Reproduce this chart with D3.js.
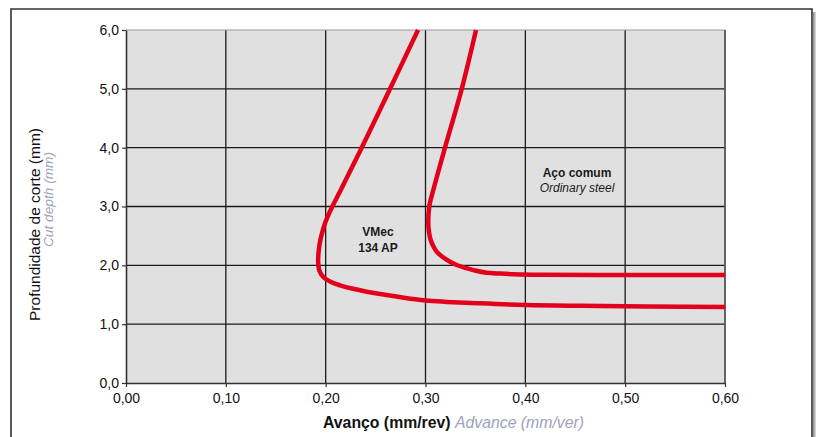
<!DOCTYPE html>
<html lang="pt">
<head>
  <meta charset="UTF-8">
  <title>Avanço x Profundidade de corte</title>
  <script src="https://d3js.org/d3.v7.min.js"></script>
  <style>
    body { margin: 0; background: #fff; overflow: hidden; font-family: "Liberation Sans", Arial, sans-serif; }
    .tick text { font-size: 14px; fill: #111; font-family: "Liberation Sans", Arial, sans-serif; }
  </style>
</head>
<body>
<svg id="chart" width="816" height="437"></svg>
<script>
// tick values
const xTicks = [0, 0.1, 0.2, 0.3, 0.4, 0.5, 0.6];
const yTicks = [0, 1, 2, 3, 4, 5, 6];

// VMec 134 AP curve (avanço, profundidade)
const vmecX = [0.2925, 0.2645, 0.2361, 0.2151, 0.2067, 0.1999, 0.1951, 0.1929, 0.1925, 0.1938, 0.1981, 0.2053,
               0.2144, 0.2274, 0.2411, 0.2544, 0.2678, 0.3002, 0.3546, 0.4004, 0.4548, 0.600];
const vmecY = [6.00, 5.00, 4.00, 3.28, 3.00, 2.74, 2.465, 2.227, 2.057, 1.904, 1.793, 1.717,
               1.661, 1.601, 1.552, 1.513, 1.479, 1.402, 1.355, 1.326, 1.312, 1.292];

// Aço comum curve
const steelX = [0.3506, 0.3363, 0.3195, 0.3078, 0.3038, 0.3028, 0.3035, 0.3052, 0.3080, 0.3112, 0.3165,
                0.3246, 0.3326, 0.3413, 0.3506, 0.3613, 0.3746, 0.3880, 0.4147, 0.4748, 0.600];
const steelY = [6.00, 5.00, 4.00, 3.28, 3.00, 2.715, 2.567, 2.431, 2.32, 2.232, 2.150,
                2.062, 1.997, 1.950, 1.907, 1.875, 1.860, 1.849, 1.839, 1.836, 1.836];

const svg = d3.select("#chart");
const plot = { left: 126, right: 725, top: 30, bottom: 383 };

const x = d3.scaleLinear().domain([0, 0.6]).range([plot.left, plot.right]);
const y = d3.scaleLinear().domain([0, 6]).range([plot.bottom, plot.top]);

const pt = d3.formatLocale({ decimal: ",", thousands: ".", grouping: [3], currency: ["", ""] });

// outer frame with a little shadow on the right
const defs = svg.append("defs");
const grad = defs.append("linearGradient").attr("id", "shadow").attr("x1", 0).attr("x2", 1);
grad.append("stop").attr("offset", "0%").attr("stop-color", "#888");
grad.append("stop").attr("offset", "100%").attr("stop-color", "#fff");
svg.append("rect").attr("x", 813).attr("y", 12).attr("width", 4).attr("height", 440).attr("fill", "url(#shadow)");
svg.append("path")
  .attr("d", "M11,440 V9 H812 V440")
  .attr("fill", "none").attr("stroke", "#333").attr("stroke-width", 1.6);

// plot background
svg.append("rect")
  .attr("x", plot.left).attr("y", plot.top)
  .attr("width", plot.right - plot.left).attr("height", plot.bottom - plot.top)
  .attr("fill", "#e0e0e0");

// grid
svg.append("g").selectAll("line").data(xTicks.slice(1, -1)).join("line")
  .attr("x1", d => x(d)).attr("x2", d => x(d))
  .attr("y1", plot.top).attr("y2", plot.bottom)
  .attr("stroke", "#1a1a1a").attr("stroke-width", 1.3);
svg.append("g").selectAll("line").data(yTicks.slice(1, -1)).join("line")
  .attr("x1", plot.left).attr("x2", plot.right)
  .attr("y1", d => y(d)).attr("y2", d => y(d))
  .attr("stroke", "#1a1a1a").attr("stroke-width", 1.3);

// top and right borders
svg.append("line").attr("x1", plot.left).attr("x2", plot.right).attr("y1", plot.top).attr("y2", plot.top)
  .attr("stroke", "#999").attr("stroke-width", 1);
svg.append("line").attr("x1", plot.right).attr("x2", plot.right).attr("y1", plot.top).attr("y2", plot.bottom)
  .attr("stroke", "#555").attr("stroke-width", 1.8);

// axes
const xAxis = svg.append("g").attr("transform", `translate(0,${plot.bottom})`)
  .call(d3.axisBottom(x).tickValues(xTicks).tickFormat(pt.format(".2f")).tickSize(4).tickPadding(6).tickSizeOuter(0));
const yAxis = svg.append("g").attr("transform", `translate(${plot.left},0)`)
  .call(d3.axisLeft(y).tickValues(yTicks).tickFormat(pt.format(".1f")).tickSize(4).tickPadding(3).tickSizeOuter(0));
[xAxis, yAxis].forEach(a => {
  a.select(".domain").attr("stroke", "#333").attr("stroke-width", 1.6);
  a.selectAll(".tick line").attr("stroke", "#333").attr("stroke-width", 1.2);
});

// curves
const line = d3.line().curve(d3.curveCatmullRom.alpha(0.5));
const curves = [
  d3.zip(vmecX, vmecY),
  d3.zip(steelX, steelY)
];
svg.append("g").selectAll("path").data(curves).join("path")
  .attr("d", d => line(d.map(p => [x(p[0]), y(p[1])])))
  .attr("fill", "none")
  .attr("stroke", "#e3001b")
  .attr("stroke-width", 4.5)
  .attr("stroke-linejoin", "round");

// curve labels
const lbl = svg.append("g").attr("text-anchor", "middle").attr("fill", "#1a1a1a").attr("font-size", 12);
lbl.append("text").attr("x", 378).attr("y", 236).attr("font-weight", "bold").text("VMec");
lbl.append("text").attr("x", 378).attr("y", 252).attr("font-weight", "bold").text("134 AP");
lbl.append("text").attr("x", 577).attr("y", 177).attr("font-weight", "bold").text("Aço comum");
lbl.append("text").attr("x", 577).attr("y", 192).attr("font-style", "italic").text("Ordinary steel");

// axis titles
const xt = svg.append("text").attr("x", 323).attr("y", 428).attr("font-size", 15.8);
xt.append("tspan").attr("font-weight", "bold").attr("fill", "#111").text("Avanço (mm/rev) ");
xt.append("tspan").attr("font-style", "italic").attr("fill", "#9da2ba").text("Advance (mm/ver)");

svg.append("text")
  .attr("transform", "translate(39.5,224.5) rotate(-90)")
  .attr("text-anchor", "middle").attr("font-size", 15.5).attr("fill", "#111")
  .text("Profundidade de corte (mm)");
svg.append("text")
  .attr("transform", "translate(53,199.5) rotate(-90)")
  .attr("text-anchor", "middle").attr("font-size", 13.7).attr("font-style", "italic").attr("fill", "#9da2ba")
  .text("Cut depth (mm)");
</script>
</body>
</html>
